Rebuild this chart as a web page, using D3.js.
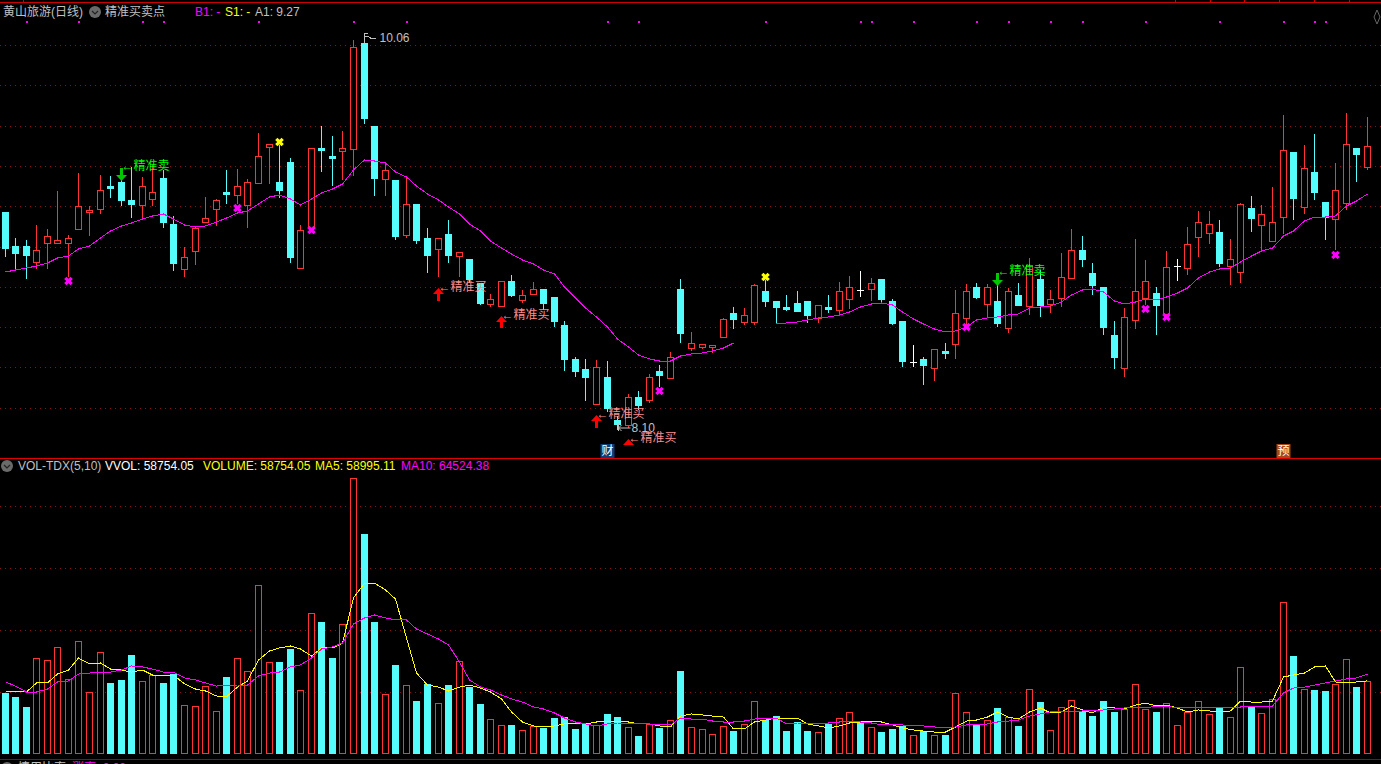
<!DOCTYPE html>
<html lang="zh">
<head>
<meta charset="utf-8">
<title>黄山旅游(日线)</title>
<script src="https://cdn.jsdelivr.net/npm/d3@7/dist/d3.min.js"></script>
<style>
html,body{margin:0;padding:0;background:#000;overflow:hidden;}
svg{display:block;}
text{font-family:"Liberation Sans","Noto Sans CJK SC",sans-serif;font-size:12px;dominant-baseline:central;}
</style>
</head>
<body>
<svg id="chart" width="1381" height="764"></svg>
<script>
const opens=[9.20,9.03,9.03,8.95,9.045,9.045,9.045,9.115,9.20,9.215,9.33,9.35,9.26,9.235,9.265,9.37,9.14,8.915,9.005,9.15,9.215,9.30,
9.285,9.235,9.345,9.525,9.35,9.45,8.92,9.12,9.52,9.48,9.505,9.515,10.045,9.63,9.365,9.36,9.085,9.24,9.07,9.015,9.09,8.98,
8.965,8.845,8.74,8.73,8.855,8.76,8.79,8.815,8.775,8.635,8.465,8.415,8.24,8.375,8.16,8.135,8.275,8.26,8.405,8.37,8.815,8.52,8.525,8.525,8.575,8.695,8.65,8.65,8.805,8.755,8.725,8.745,8.755,8.67,8.725,8.71,8.765,8.81,8.815,8.865,8.755,8.655,8.45,
8.465,8.42,8.505,8.54,8.67,8.825,8.74,8.755,8.62,8.785,8.73,8.865,8.74,8.77,8.87,9.01,8.895,8.825,8.585,8.42,8.66,8.77,8.795,8.69,8.93,8.92,9.075,9.095,9.10,8.93,8.90,9.22,9.135,9.055,9.175,9.50,9.225,9.40,9.25,9.165,9.245,9.52,9.425];
const closes=[9.02,8.995,8.985,9.01,9.08,9.06,9.07,9.23,9.21,9.31,9.32,9.26,9.24,9.33,9.30,9.15,8.945,8.975,9.12,9.17,9.26,9.29,
9.33,9.35,9.48,9.54,9.31,8.975,9.11,9.52,9.51,9.47,9.52,10.025,9.67,9.37,9.41,9.08,9.24,9.06,8.985,9.07,8.985,9.00,
8.865,8.745,8.765,8.855,8.785,8.785,8.815,8.745,8.655,8.465,8.405,8.375,8.425,8.22,8.14,8.275,8.235,8.375,8.385,8.475,8.595,8.545,8.54,8.535,8.665,8.665,8.685,8.835,8.755,8.725,8.715,8.705,8.685,8.735,8.715,8.805,8.825,8.81,8.845,8.765,8.645,8.455,8.45,
8.435,8.515,8.495,8.695,8.805,8.775,8.825,8.645,8.805,8.735,8.935,8.735,8.765,8.875,9.01,8.965,8.835,8.625,8.475,8.675,8.805,8.855,8.735,8.925,8.93,9.04,9.15,9.14,8.945,8.965,9.24,9.17,9.19,9.15,9.51,9.27,9.42,9.30,9.175,9.31,9.54,9.49,9.53];
const highs=[9.20,9.07,9.06,9.135,9.115,9.305,9.085,9.395,9.23,9.385,9.38,9.375,9.425,9.375,9.435,9.41,9.18,9.025,9.13,9.275,9.265,9.41,
9.415,9.365,9.595,9.54,9.535,9.47,9.135,9.52,9.63,9.58,9.605,10.06,10.075,9.63,9.44,9.36,9.375,9.24,9.12,9.07,9.16,9.00,
8.965,8.845,8.79,8.855,8.885,8.81,8.85,8.815,8.775,8.655,8.475,8.465,8.46,8.455,8.18,8.29,8.305,8.39,8.435,8.50,8.865,8.60,8.54,8.535,8.67,8.725,8.72,8.84,8.86,8.755,8.785,8.805,8.755,8.735,8.785,8.85,8.88,8.905,8.87,8.865,8.765,8.655,8.535,
8.475,8.515,8.545,8.81,8.84,8.845,8.84,8.86,8.82,8.845,8.97,8.91,8.81,8.995,9.115,9.08,8.945,8.825,8.655,8.72,9.065,8.96,8.825,9.005,8.965,9.125,9.205,9.205,9.16,9.065,9.245,9.28,9.235,9.325,9.685,9.50,9.535,9.59,9.25,9.445,9.695,9.52,9.675];
const lows=[8.975,8.905,8.865,8.915,8.915,9.04,8.875,9.11,9.08,9.19,9.27,9.23,9.17,9.17,9.23,9.12,8.905,8.875,8.935,9.145,9.13,9.24,
9.24,9.12,9.345,9.34,9.27,8.945,8.915,9.11,9.40,9.33,9.36,9.38,9.64,9.28,9.28,9.06,9.07,9.04,8.895,8.875,8.945,8.875,
8.845,8.735,8.725,8.73,8.775,8.745,8.785,8.71,8.625,8.405,8.375,8.255,8.24,8.20,8.11,8.12,8.21,8.245,8.325,8.365,8.545,8.505,8.515,8.495,8.57,8.615,8.635,8.635,8.725,8.645,8.705,8.705,8.645,8.645,8.695,8.685,8.715,8.775,8.755,8.745,8.635,8.425,8.425,
8.335,8.355,8.465,8.465,8.625,8.765,8.67,8.625,8.595,8.735,8.685,8.675,8.695,8.725,8.87,8.925,8.785,8.585,8.415,8.375,8.615,8.735,8.585,8.685,8.855,8.885,8.975,9.04,8.925,8.835,8.845,9.10,9.005,9.055,9.09,9.16,9.19,9.26,9.06,9.01,9.21,9.35,9.41];
const ma20=[8.90,8.91,8.92,8.93,8.945,8.97,8.98,9.015,9.03,9.07,9.105,9.13,9.145,9.165,9.18,9.19,9.165,9.135,9.125,9.13,9.15,9.17,
9.195,9.205,9.24,9.275,9.285,9.265,9.235,9.265,9.295,9.315,9.34,9.41,9.46,9.455,9.445,9.40,9.375,9.33,9.29,9.26,9.225,9.19,
9.14,9.105,9.055,9.02,8.99,8.96,8.94,8.91,8.89,8.825,8.77,8.72,8.675,8.625,8.565,8.525,8.485,8.465,8.455,8.455,8.48,8.49,8.495,8.505,8.52,8.545,null,null,null,
8.64,8.645,8.65,8.66,8.67,8.675,8.685,8.70,8.725,8.74,8.745,8.735,8.70,8.665,
8.64,8.615,8.60,8.605,8.625,8.66,8.67,8.675,8.685,8.69,8.72,8.725,8.73,8.75,8.785,8.81,8.815,8.80,8.755,8.74,8.75,8.765,8.76,8.775,8.795,8.82,8.87,8.90,8.915,8.92,8.95,8.98,9.005,9.02,9.08,9.105,9.155,9.175,9.175,9.18,9.23,9.255,9.29];
const volumes=[49200,46000,37900,77400,75800,86300,60500,91100,50000,82300,57300,59700,79800,58900,63700,57300,64500,39500,38700,54800,34700,62100,
77400,66900,136300,74200,74200,84700,51600,113700,106500,77400,104800,222600,177400,106500,48400,71800,55600,42700,56500,41100,55600,75000,
54000,40300,28200,23400,23400,19400,22600,21000,29000,29800,20200,24200,23400,32300,29800,21800,14500,24200,21000,27400,66900,21800,20200,16100,22600,18500,24200,42700,27400,30600,18500,25800,18500,17700,24200,29000,33900,25000,21800,17700,20200,22600,15300,
18500,15300,15300,49200,33900,24200,27400,37100,29800,22600,52400,41900,19400,37900,43500,34700,30600,42700,33900,36300,56500,36300,33900,41100,23400,33900,42700,32300,37900,29800,70200,38700,33100,44400,122600,79000,52400,51600,50800,56500,76600,54000,58754];
const ma5=[50800,50800,50000,57300,57300,64500,67700,77400,72600,73400,68500,67700,66100,67700,63700,63700,63700,56500,52400,50800,46800,46000,
54000,58900,75800,83100,85500,87100,84700,79000,85500,85500,89500,125800,137900,137900,132300,125000,93500,65300,55600,54000,50800,54000,
55600,53200,50000,44400,33900,25800,22600,21800,22600,24200,24200,24200,25800,26600,26600,25800,24200,24200,22600,21800,30600,32300,31500,30600,29800,20200,20200,25800,27400,29000,29000,29000,24200,22600,21000,22600,25000,25800,26600,25800,23400,21000,19400,
18500,17700,17700,21800,26600,27400,29800,33900,29800,28200,33900,37100,33100,33900,38700,35500,33100,37900,37100,36300,39500,41100,38700,39500,37100,33900,35500,34700,33900,34700,42700,41900,41900,42700,62100,63700,65300,70200,71000,58100,57300,58100,58995];
const ma10=[58100,54800,50000,50000,52400,58100,58900,64500,65300,66100,66100,67700,71000,70200,68500,66100,66100,61300,59700,57300,54800,55600,
54800,55600,62900,65300,66100,70200,71800,77400,84700,86300,89500,104800,109700,112100,109700,108100,108100,100800,96800,92700,87900,74200,
59700,54000,51600,47600,44400,41900,37900,36300,33100,29000,25800,24200,22600,24200,25000,25000,24200,24200,23400,23400,29000,28200,28200,26600,25800,25800,26600,28200,29000,29000,24200,25000,25000,25000,25000,25800,26600,25800,25000,23400,23400,23400,22600,
22600,21800,21000,21800,23400,23400,24200,25800,26600,27400,30600,32300,33900,33900,33900,34700,34700,35500,36300,37100,37900,37100,38700,38700,37100,37100,37900,37100,37100,37100,37900,38700,37900,38700,49200,53200,54000,55600,57300,58900,60500,61300,64524];
const priceGrid=[10.035,9.835,9.63,9.43,9.23,9.025,8.825,8.625,8.425,8.22];
const volumeGrid=[50000,100000,150000,200000];
const flatVolumeUp=[86,111];
const signalDays=[2,7,13,15,24,33,38,57,60,72,81,82,86,92,95,99,102,108,115,121,124,125];
const magentaCrossDays=[6,22,29,62,91,108,110,126];
const magentaCrossPrices=[8.855,9.22,9.11,8.305,8.625,8.715,8.675,8.985];
const yellowCrossDays=[26,72];
const yellowCrossPrices=[9.55,8.875];
const buyDays=[41,47,56,59];
const buyPrices=[8.825,8.685,8.19,8.07];
const buyStems=[7,6,7,0];
const sellDays=[11,94];
const sellPrices=[9.43,8.905];
const highDay=34, highLabel="10.06", highPrice=10.06;
const lowDay=58, lowLabel="8.10", lowPrice=8.115;
const newsBadges=[{day:57,label:"财",bg:"#0b3f78"},{day:121,label:"预",bg:"#a8471a"}];

const RED="#ff3333",CYAN="#54fcfc",MAG="#ff00ff",YEL="#ffff00",GREY="#c0c0c0",GRID="#8a1414";
const svg=d3.select("#chart");
svg.append("rect").attr("width",1381).attr("height",764).attr("fill","#000");
const x=d3.scalePoint().domain(d3.range(opens.length)).range([4.5,1367]);
const cx=i=>Math.round(x(i))+0.5;
const yP=d3.scaleLinear().domain([8.10,10.06]).range([432,40]);
const yV=d3.scaleLinear().domain([0,200000]).range([754,506]);
const snap=y=>Math.round(y)+0.5;

// frame
const frame=svg.append("g").attr("shape-rendering","crispEdges");
[[2,"#cc0000"],[458,"#e00000"],[759,"#a80000"]].forEach(([y,c])=>frame.append("line").attr("x1",0).attr("x2",1381).attr("y1",y+.5).attr("y2",y+.5).attr("stroke",c));
[23,1175,1210,1244,1279,1314,1349].forEach(t=>frame.append("line").attr("x1",t+.5).attr("x2",t+.5).attr("y1",0).attr("y2",2).attr("stroke","#cc0000"));
svg.append("path").attr("d","M1377 10L1380 17L1377 24L1374 17Z").attr("fill","none").attr("stroke","#666");

// grids
const gridG=svg.append("g").attr("shape-rendering","crispEdges").attr("stroke",GRID).attr("stroke-dasharray","1 4");
gridG.selectAll(".p").data(priceGrid).join("line").attr("x1",0).attr("x2",1381).attr("y1",d=>snap(yP(d))).attr("y2",d=>snap(yP(d)));
gridG.selectAll(".v").data(volumeGrid).join("line").attr("x1",0).attr("x2",1381).attr("y1",d=>snap(yV(d))).attr("y2",d=>snap(yV(d)));

// signal dots
svg.append("g").selectAll("rect").data(signalDays).join("rect").attr("x",d=>cx(d)-1).attr("y",21).attr("width",2).attr("height",2).attr("fill",MAG).attr("shape-rendering","crispEdges");

// candles
const cg=svg.append("g").attr("shape-rendering","crispEdges");
opens.forEach((o,i)=>{
  const c=closes[i],up=c>o,flat=c===o,col=flat?"#ffffff":(up?RED:CYAN),X=cx(i);
  const t=snap(yP(Math.max(o,c))),b=snap(yP(Math.min(o,c)));
  const line=(x1,y1,x2,y2)=>cg.append("line").attr("x1",x1).attr("x2",x2).attr("y1",y1).attr("y2",y2).attr("stroke",col);
  if(flat){
    line(X,yP(highs[i]),X,yP(lows[i]));
    line(X-3.5,t,X+3.5,t);
  }else{
    if(highs[i]>Math.max(o,c)) line(X,yP(highs[i]),X,t);
    if(lows[i]<Math.min(o,c)) line(X,b,X,yP(lows[i]));
    if(up) cg.append("rect").attr("x",X-3).attr("y",t).attr("width",6).attr("height",Math.max(1,b-t)).attr("fill","#000").attr("stroke",col);
    else cg.append("rect").attr("x",X-3.5).attr("y",t-.5).attr("width",7).attr("height",Math.max(2,b-t+1)).attr("fill",col);
  }
});

// price MA
const lineP=d3.line().defined(d=>d!==null).x((d,i)=>cx(i)).y(d=>yP(d));
svg.append("path").attr("d",lineP(ma20)).attr("fill","none").attr("stroke",MAG).attr("stroke-width",1).attr("shape-rendering","crispEdges");

// volume bars
const vg=svg.append("g").attr("shape-rendering","crispEdges");
volumes.forEach((v,i)=>{
  const up=closes[i]>opens[i]||flatVolumeUp.includes(i),X=cx(i),t=snap(yV(v)),b=753.5;
  if(up) vg.append("rect").attr("x",X-3).attr("y",t).attr("width",6).attr("height",b-t).attr("fill","#000").attr("stroke",RED);
  else vg.append("rect").attr("x",X-3.5).attr("y",t-.5).attr("width",7).attr("height",b-t+1).attr("fill",CYAN);
});
const lineV=d3.line().x((d,i)=>cx(i)).y(d=>yV(d));
svg.append("path").attr("d",lineV(ma5)).attr("fill","none").attr("stroke",YEL).attr("shape-rendering","crispEdges");
svg.append("path").attr("d",lineV(ma10)).attr("fill","none").attr("stroke",MAG).attr("shape-rendering","crispEdges");

// crosses
function cross(day,price,col){
  const X=cx(day),Y=yP(price);
  svg.append("path").attr("d",`M${X-3.2} ${Y-3.2}L${X+3.2} ${Y+3.2}M${X+3.2} ${Y-3.2}L${X-3.2} ${Y+3.2}`).attr("stroke",col).attr("stroke-width",3.2).attr("fill","none");
}
magentaCrossDays.forEach((d,i)=>cross(d,magentaCrossPrices[i],MAG));
yellowCrossDays.forEach((d,i)=>cross(d,yellowCrossPrices[i],YEL));

// buy / sell annotations
buyDays.forEach((d,i)=>{
  const X=cx(d),Y=yP(buyPrices[i]),tip=Y+1,h=tip+6,s=h+buyStems[i];
  svg.append("path").attr("d",`M${X} ${tip}L${X+5.5} ${h}L${X+1.5} ${h}L${X+1.5} ${s}L${X-1.5} ${s}L${X-1.5} ${h}L${X-5.5} ${h}Z`).attr("fill","#ff0000");
  svg.append("text").attr("x",X).attr("y",Y).attr("fill","#ff8c8c").text("←精准买");
});
sellDays.forEach((d,i)=>{
  const X=cx(d),Y=yP(sellPrices[i]);
  svg.append("path").attr("d",`M${X-1.5} ${Y+2}L${X+1.5} ${Y+2}L${X+1.5} ${Y+9}L${X+5.5} ${Y+9}L${X} ${Y+15}L${X-5.5} ${Y+9}L${X-1.5} ${Y+9}Z`).attr("fill","#00c800");
  svg.append("text").attr("x",X).attr("y",Y).attr("fill","#00ff00").text("←精准卖");
});

// extreme labels
{
  const X=cx(highDay),Y=yP(highPrice)-2;
  svg.append("path").attr("d",`M${X} ${Y+5}V${Y-5}H${X+3}M${X} ${Y-2}H${X+3}L${X+6} ${Y}H${X+11}`).attr("stroke",GREY).attr("fill","none").attr("shape-rendering","crispEdges");
  svg.append("text").attr("x",X+15).attr("y",Y).attr("fill",GREY).text(highLabel);
  const X2=cx(lowDay),Y2=yP(lowPrice)-1;
  svg.append("path").attr("d",`M${X2+1} ${Y2-4}V${Y2+3}M${X2+4} ${Y2-3}L${X2+1} ${Y2}L${X2+4} ${Y2+3}M${X2+1} ${Y2}H${X2+13}`).attr("stroke",GREY).attr("fill","none");
  svg.append("text").attr("x",X2+14).attr("y",Y2).attr("fill",GREY).text(lowLabel);
}

// badges
newsBadges.forEach(b=>{
  const X=cx(b.day);
  svg.append("rect").attr("x",X-7).attr("y",444).attr("width",14).attr("height",14).attr("fill",b.bg);
  svg.append("text").attr("x",X).attr("y",451).attr("text-anchor","middle").attr("fill","#fff").text(b.label);
});

// headers
function chevron(cxp,cyp){
  svg.append("circle").attr("cx",cxp).attr("cy",cyp).attr("r",6).attr("fill","#6a6a6a");
  svg.append("path").attr("d",`M${cxp-3} ${cyp-1}L${cxp} ${cyp+2}L${cxp+3} ${cyp-1}`).attr("stroke","#222").attr("stroke-width",1.2).attr("fill","none");
}
const label=(tx,ty,t,c)=>svg.append("text").attr("x",tx).attr("y",ty).attr("fill",c).text(t);
label(3,12,"黄山旅游(日线)",GREY);
chevron(95,12);
label(105,12,"精准买卖点",GREY);
label(195,12,"B1: -",MAG);
label(225,12,"S1: -",YEL);
label(255,12,"A1: 9.27",GREY);
chevron(7,466);
label(18,466,"VOL-TDX(5,10)",GREY);
label(105,466,"VVOL: 58754.05","#ffffff");
label(203,466,"VOLUME: 58754.05",YEL);
label(315,466,"MA5: 58995.11",YEL);
label(401,466,"MA10: 64524.38",MAG);
chevron(7,768);
label(18,768,"情用比率",GREY);
label(72,768,"涨率: 0.00",MAG);
</script>
</body>
</html>
